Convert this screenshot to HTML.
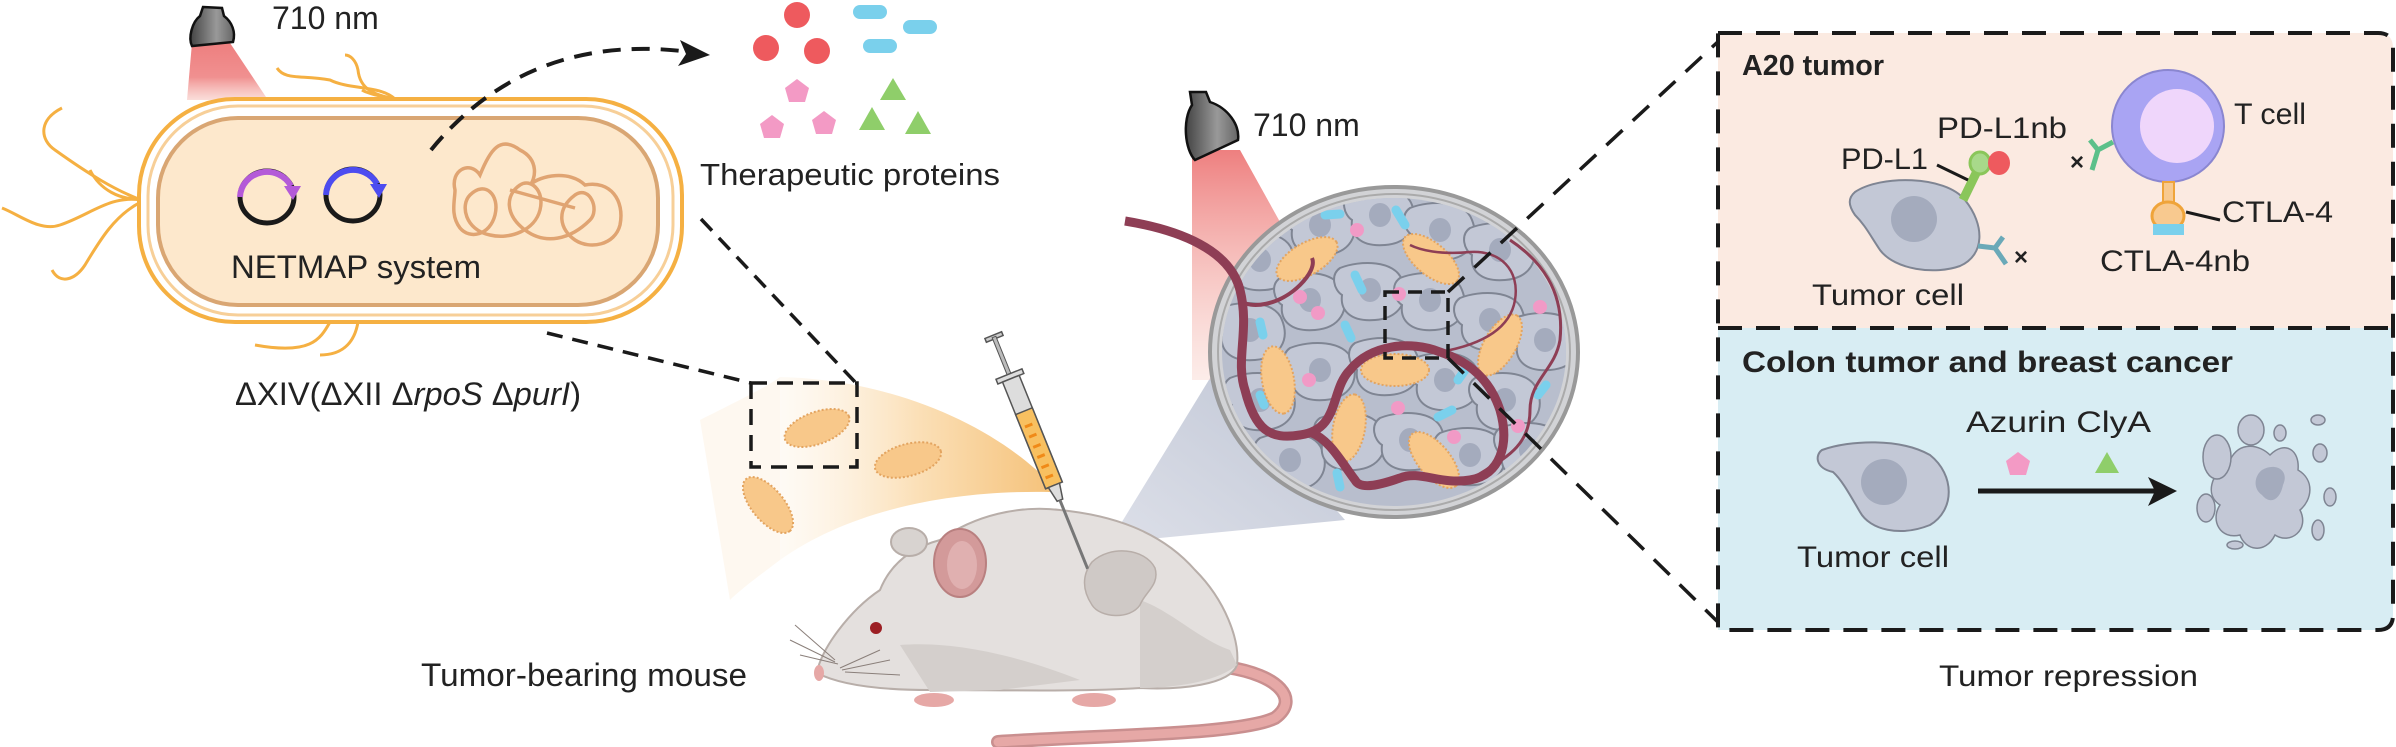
<!DOCTYPE html>
<html><head><meta charset="utf-8"><style>
html,body{margin:0;padding:0;background:#fff;}
svg{display:block;}
text{font-family:"Liberation Sans",Arial,sans-serif;fill:#222;}
</style></head><body>
<svg width="2396" height="747" viewBox="0 0 2396 747" xmlns="http://www.w3.org/2000/svg">
<defs>
<linearGradient id="red1" x1="0" y1="0" x2="0" y2="1"><stop offset="0" stop-color="#ee7f7f"/><stop offset="0.6" stop-color="#f09090"/><stop offset="1" stop-color="#f7c6c0" stop-opacity="0.6"/></linearGradient>
<linearGradient id="red2" x1="0" y1="0" x2="0" y2="1"><stop offset="0" stop-color="#ee7f7f"/><stop offset="1" stop-color="#f8d0c8" stop-opacity="0.4"/></linearGradient>
<linearGradient id="org" x1="0" y1="0" x2="1" y2="0"><stop offset="0" stop-color="#fdf0de" stop-opacity="0.3"/><stop offset="0.5" stop-color="#fbe0b8"/><stop offset="1" stop-color="#f5c27a"/></linearGradient>
<linearGradient id="gry" x1="0" y1="1" x2="1" y2="0"><stop offset="0" stop-color="#d9dce6"/><stop offset="1" stop-color="#b8bfd0"/></linearGradient>
<linearGradient id="lamp" x1="0" y1="0" x2="1" y2="0"><stop offset="0" stop-color="#444"/><stop offset="0.6" stop-color="#999"/><stop offset="1" stop-color="#666"/></linearGradient>
<g id="cell"><path d="M-30,-22 C-10,-30 25,-30 32,-10 C40,10 30,28 5,30 C-20,32 -30,20 -28,5 C-36,0 -40,-15 -30,-22Z" fill="#c3c8d6" stroke="#7f8593" stroke-width="2"/><ellipse cx="0" cy="0" rx="11" ry="12" fill="#a4abbd"/></g>
<g id="bac"><ellipse cx="0" cy="0" rx="34" ry="16" fill="#f8c88a" stroke="#e3a460" stroke-width="2" stroke-dasharray="2 2"/></g>
</defs>

<polygon points="192,43 230,43 268,100 187,100" fill="url(#red1)"/>
<path d="M203,7 L222,8 L224,16 C232,22 236,32 233,42 L192,46 C188,38 192,22 200,16 Z" fill="url(#lamp)" stroke="#111" stroke-width="2.5"/>
<text x="272" y="29" font-size="32">710 nm</text>

<g fill="none" stroke="#f5b042" stroke-width="3">
<path d="M141,200 C110,195 90,215 60,225 C40,232 20,215 2,208"/>
<path d="M141,200 C115,190 90,175 55,150 C40,140 38,120 62,108"/>
<path d="M141,202 C115,215 100,240 85,265 C75,280 60,285 52,270"/>
<path d="M141,199 C120,200 100,190 90,170"/>
<path d="M395,99 C380,85 350,90 330,80 C300,75 285,80 277,68"/>
<path d="M395,99 C375,95 360,90 358,70 C356,60 350,55 345,55"/>
<path d="M395,99 C390,98 370,95 362,90"/>
<path d="M330,322 C320,340 310,355 255,345"/>
<path d="M358,322 C355,340 345,355 320,355"/>
</g>

<rect x="139" y="99" width="543" height="223" rx="96" fill="#fff" stroke="#f5b042" stroke-width="4"/>
<rect x="148" y="106" width="525" height="209" rx="90" fill="none" stroke="#f7cf98" stroke-width="3"/>
<rect x="158" y="118" width="500" height="187" rx="80" fill="#fde8cc" stroke="#d9a673" stroke-width="4"/>
<ellipse cx="267" cy="197" rx="27" ry="26" fill="none" stroke="#1a1a1a" stroke-width="5"/>
<path d="M240,197 A27,26 0 0 1 291,186" fill="none" stroke="#b45ad8" stroke-width="6"/>
<polygon points="284,186 301,186 293,200" fill="#b45ad8"/>
<ellipse cx="353" cy="195" rx="27" ry="26" fill="none" stroke="#1a1a1a" stroke-width="5"/>
<path d="M326,195 A27,26 0 0 1 377,184" fill="none" stroke="#4d4cf0" stroke-width="6"/>
<polygon points="370,184 387,184 379,198" fill="#4d4cf0"/>
<g fill="none" stroke="#e0a472" stroke-width="3.5">
<path d="M455,190 C450,170 470,160 480,175 C490,150 500,135 520,150 C540,160 535,180 530,185 C540,175 570,170 585,185 C610,180 625,200 620,225 C615,245 590,250 575,240 C560,230 555,210 575,195 C590,185 600,210 590,220 C570,240 545,245 525,230 C505,215 505,195 520,185 C530,178 545,190 540,210 C535,230 510,240 490,235 C465,230 460,205 470,195 C485,180 500,195 495,215 C490,235 470,240 460,228 C450,215 455,200 455,190Z"/>
<path d="M510,190 L575,208"/>
</g>
<text x="231" y="278" font-size="32" textLength="250" lengthAdjust="spacingAndGlyphs">NETMAP system</text>
<text x="235" y="405" font-size="32" textLength="346" lengthAdjust="spacingAndGlyphs">ΔXIV(ΔXII Δ<tspan font-style="italic">rpoS</tspan> Δ<tspan font-style="italic">purI</tspan>)</text>

<path d="M431,150 C480,90 560,35 690,52" fill="none" stroke="#1a1a1a" stroke-width="4" stroke-dasharray="18 11"/>
<polygon points="710,55 680,40 686,54 678,66" fill="#1a1a1a"/>

<g fill="#ee5a5e"><circle cx="797" cy="15" r="13"/><circle cx="766" cy="48" r="13"/><circle cx="817" cy="51" r="13"/></g>
<g fill="#7ad0ec"><rect x="853" y="5" width="34" height="14" rx="7"/><rect x="903" y="20" width="34" height="14" rx="7"/><rect x="863" y="39" width="34" height="14" rx="7"/></g>
<g fill="#f39ac5">
<polygon points="797,79 809,88 805,102 789,102 785,88"/>
<polygon points="772,115 784,124 780,138 764,138 760,124"/>
<polygon points="824,111 836,120 832,134 816,134 812,120"/>
</g>
<g fill="#8fce6a">
<polygon points="893,78 906,100 880,100"/>
<polygon points="872,107 885,130 859,130"/>
<polygon points="918,111 931,134 905,134"/>
</g>
<text x="700" y="185" font-size="31" textLength="300" lengthAdjust="spacingAndGlyphs">Therapeutic proteins</text>

<g stroke="#1a1a1a" stroke-width="3.5" stroke-dasharray="16 10" fill="none">
<line x1="701" y1="219" x2="856" y2="383"/>
<line x1="547" y1="333" x2="751" y2="383"/>
</g>
<path d="M780,377 C900,380 1000,430 1052,485 L1050,492 C950,490 850,510 780,560 Z" fill="url(#org)"/>
<path d="M700,420 C740,400 770,385 780,377 L780,560 C760,575 740,590 730,600 Z" fill="#fdf3e6" opacity="0.6"/>
<rect x="751" y="383" width="106" height="84" fill="none" stroke="#1a1a1a" stroke-width="3.5" stroke-dasharray="16 10"/>
<g transform="translate(817,428) rotate(-20)"><use href="#bac"/></g>
<g transform="translate(908,460) rotate(-15)"><use href="#bac"/></g>
<g transform="translate(768,505) rotate(50)"><use href="#bac"/></g>

<polygon points="1109,543 1215,370 1345,520" fill="url(#gry)" opacity="0.9"/>

<path d="M1226,667 C1280,675 1300,700 1275,718 C1240,735 1100,735 998,742" fill="none" stroke="#c98f8f" stroke-width="14" stroke-linecap="round"/>
<path d="M1226,667 C1280,675 1300,700 1275,718 C1240,735 1100,735 998,742" fill="none" stroke="#e6a8a6" stroke-width="9" stroke-linecap="round"/>
<path d="M817,673 C820,650 850,610 880,590 C890,565 910,548 940,540 C975,515 1020,505 1060,510 C1110,515 1160,530 1195,570 C1225,600 1240,640 1237,665 C1230,685 1180,690 1140,688 C1080,692 1000,690 930,690 C880,690 840,685 817,673Z" fill="#e4e0de" stroke="#b8aea9" stroke-width="2"/>
<path d="M900,645 C960,640 1030,660 1080,680 L1000,690 L930,692 Z" fill="#d4cfcc"/>
<path d="M1140,600 C1170,610 1200,640 1230,650 L1237,665 C1220,680 1180,688 1140,688 Z" fill="#d4cfcc"/>
<ellipse cx="909" cy="542" rx="18" ry="14" fill="#d8d3d0" stroke="#b8aea9" stroke-width="2"/>
<ellipse cx="960" cy="563" rx="26" ry="34" fill="#d39a9a" stroke="#b98080" stroke-width="2"/>
<ellipse cx="962" cy="565" rx="15" ry="24" fill="#e0b0b0"/>
<path d="M1092,562 C1110,545 1145,548 1155,568 C1160,585 1145,592 1140,605 C1130,620 1100,618 1092,605 C1082,590 1082,575 1092,562Z" fill="#cfc9c6" stroke="#b8aea9" stroke-width="1.5"/>
<circle cx="876" cy="628" r="6" fill="#9c1f24"/>
<ellipse cx="819" cy="673" rx="5" ry="8" fill="#e6a8a6"/>
<g stroke="#8a7f7a" stroke-width="1" fill="none">
<path d="M835,660 L795,625"/><path d="M835,662 L790,640"/><path d="M838,664 L800,655"/>
<path d="M840,668 L880,650"/><path d="M842,670 L890,660"/><path d="M845,672 L900,675"/>
</g>
<ellipse cx="934" cy="700" rx="20" ry="7" fill="#e6a8a6"/>
<ellipse cx="1094" cy="700" rx="22" ry="7" fill="#e6a8a6"/>

<g transform="translate(994,337) rotate(-22)">
<rect x="-9" y="-2" width="18" height="4" fill="#ccc" stroke="#555" stroke-width="1.5"/>
<rect x="-2" y="0" width="4" height="40" fill="#bbb" stroke="#555" stroke-width="1"/>
<rect x="-14" y="40" width="28" height="5" fill="#ddd" stroke="#555" stroke-width="1.5"/>
<rect x="-9" y="45" width="18" height="115" fill="#ddd" stroke="#555" stroke-width="1.5"/>
<rect x="-9" y="80" width="18" height="80" fill="#f8c060" stroke="#555" stroke-width="1.5"/>
<g stroke="#f08a18" stroke-width="3"><line x1="-5" y1="95" x2="3" y2="95"/><line x1="-5" y1="106" x2="3" y2="106"/><line x1="-5" y1="117" x2="3" y2="117"/><line x1="-5" y1="128" x2="3" y2="128"/><line x1="-5" y1="139" x2="3" y2="139"/><line x1="-5" y1="150" x2="3" y2="150"/></g>
<polygon points="-6,160 6,160 3,176 -3,176" fill="#ddd" stroke="#555" stroke-width="1.5"/>
<line x1="0" y1="176" x2="0" y2="250" stroke="#777" stroke-width="3"/>
</g>
<text x="421" y="686" font-size="32" textLength="326" lengthAdjust="spacingAndGlyphs">Tumor-bearing mouse</text>

<polygon points="1192,150 1240,150 1300,258 1210,380 1192,380" fill="url(#red2)"/>
<path d="M1190,92 L1206,92 L1210,102 C1228,108 1240,125 1238,140 L1195,160 C1185,150 1182,120 1192,105 Z" fill="url(#lamp)" stroke="#111" stroke-width="2.5"/>
<text x="1253" y="136" font-size="32">710 nm</text>

<ellipse cx="1394" cy="352" rx="184" ry="165" fill="#d2d3d6" stroke="#999" stroke-width="4"/>
<ellipse cx="1394" cy="352" rx="176" ry="158" fill="none" stroke="#aaa" stroke-width="2"/>
<clipPath id="cc"><ellipse cx="1394" cy="352" rx="172" ry="154"/></clipPath>
<g clip-path="url(#cc)">
<rect x="1220" y="195" width="350" height="320" fill="#b8becd"/>
<use href="#cell" x="1260" y="260"/><use href="#cell" x="1320" y="225"/><use href="#cell" x="1380" y="215"/><use href="#cell" x="1440" y="230"/><use href="#cell" x="1500" y="250"/>
<use href="#cell" x="1250" y="330"/><use href="#cell" x="1310" y="300"/><use href="#cell" x="1370" y="290"/><use href="#cell" x="1430" y="300"/><use href="#cell" x="1490" y="320"/><use href="#cell" x="1545" y="340"/>
<use href="#cell" x="1260" y="400"/><use href="#cell" x="1320" y="370"/><use href="#cell" x="1385" y="365"/><use href="#cell" x="1445" y="380"/><use href="#cell" x="1505" y="400"/>
<use href="#cell" x="1290" y="460"/><use href="#cell" x="1350" y="440"/><use href="#cell" x="1410" y="440"/><use href="#cell" x="1470" y="455"/><use href="#cell" x="1530" y="450"/>
<g fill="#f19ac6"><circle cx="1357" cy="230" r="7"/><circle cx="1318" cy="313" r="7"/><circle cx="1300" cy="297" r="7"/><circle cx="1399" cy="294" r="7"/><circle cx="1540" cy="307" r="7"/><circle cx="1309" cy="380" r="7"/><circle cx="1398" cy="408" r="7"/><circle cx="1454" cy="437" r="7"/><circle cx="1518" cy="426" r="7"/></g>
<g stroke="#7ad0ec" stroke-width="9" stroke-linecap="round"><line x1="1325" y1="215" x2="1340" y2="214"/><line x1="1396" y1="210" x2="1405" y2="225"/><line x1="1355" y1="275" x2="1362" y2="290"/><line x1="1260" y1="322" x2="1263" y2="335"/><line x1="1345" y1="325" x2="1351" y2="338"/><line x1="1500" y1="330" x2="1509" y2="340"/><line x1="1538" y1="395" x2="1546" y2="385"/><line x1="1260" y1="395" x2="1264" y2="405"/><line x1="1438" y1="417" x2="1452" y2="410"/><line x1="1337" y1="473" x2="1340" y2="487"/><line x1="1458" y1="380" x2="1465" y2="370"/></g>
<g transform="translate(1307,259) rotate(-30)"><use href="#bac"/></g>
<g transform="translate(1431,259) rotate(40)"><use href="#bac"/></g>
<g transform="translate(1278,380) rotate(80)"><use href="#bac"/></g>
<g transform="translate(1395,370) rotate(0)"><use href="#bac"/></g>
<g transform="translate(1500,345) rotate(-60)"><use href="#bac"/></g>
<g transform="translate(1349,428) rotate(-80)"><use href="#bac"/></g>
<g transform="translate(1434,460) rotate(50)"><use href="#bac"/></g>
</g>
<path d="M1125,221 C1180,230 1230,250 1240,290 C1250,330 1235,360 1245,390 C1255,430 1270,440 1300,435 C1340,430 1330,390 1350,370 C1370,345 1410,340 1440,352 C1470,362 1490,380 1500,410 C1510,445 1500,475 1470,480 C1440,485 1420,470 1400,478 C1380,485 1360,490 1355,480 C1340,460 1330,440 1310,432" fill="none" stroke="#8e3e55" stroke-width="9"/>
<path d="M1240,300 C1250,310 1280,305 1300,285 C1310,275 1315,265 1312,258" fill="none" stroke="#8e3e55" stroke-width="4"/>
<path d="M1440,352 C1480,345 1510,330 1515,300 C1520,270 1500,250 1470,252 C1440,255 1420,250 1410,245" fill="none" stroke="#8e3e55" stroke-width="2.5"/>
<path d="M1470,480 C1500,460 1530,450 1530,410 C1530,380 1555,370 1560,340 C1565,290 1540,260 1510,240" fill="none" stroke="#8e3e55" stroke-width="3"/>
<rect x="1385" y="292" width="63" height="66" fill="none" stroke="#1a1a1a" stroke-width="3.5" stroke-dasharray="14 9"/>

<g stroke="#1a1a1a" stroke-width="3.5" stroke-dasharray="22 14" fill="none">
<line x1="1448" y1="292" x2="1722" y2="38"/>
<line x1="1448" y1="358" x2="1722" y2="626"/>
</g>

<path d="M1718,33 L2378,33 Q2393,33 2393,48 L2393,328 L1718,328 Z" fill="#fbeae1"/>
<path d="M1718,328 L2393,328 L2393,615 Q2393,630 2378,630 L1718,630 Z" fill="#d8edf3"/>
<g fill="none" stroke="#1a1a1a" stroke-width="4" stroke-dasharray="24 14">
<path d="M1718,33 L2378,33 Q2393,33 2393,48 L2393,615 Q2393,630 2378,630 L1718,630 Z"/>
<line x1="1718" y1="328" x2="2393" y2="328"/>
</g>
<text x="1742" y="75" font-size="29" font-weight="bold" textLength="142" lengthAdjust="spacingAndGlyphs">A20 tumor</text>
<path d="M1855,192 C1880,175 1945,175 1965,200 C1985,225 1985,255 1960,266 C1935,275 1895,270 1880,250 C1870,235 1865,225 1855,215 C1848,205 1848,198 1855,192Z" fill="#c3c8d6" stroke="#7f8593" stroke-width="2"/>
<ellipse cx="1914" cy="219" rx="23" ry="23" fill="#a4abbd"/>
<path d="M1963,200 L1980,165" stroke="#8ac65a" stroke-width="9" fill="none"/>
<ellipse cx="1980" cy="163" rx="10" ry="11" fill="#a8d98a" stroke="#8ac65a" stroke-width="3"/>
<ellipse cx="1999" cy="163" rx="11" ry="12" fill="#ee5a5e"/>
<line x1="1937" y1="165" x2="1968" y2="180" stroke="#1a1a1a" stroke-width="3"/>
<text x="1937" y="138" font-size="30" textLength="130" lengthAdjust="spacingAndGlyphs">PD-L1nb</text>
<text x="1841" y="169" font-size="30" textLength="87" lengthAdjust="spacingAndGlyphs">PD-L1</text>
<path d="M1978,246 L1995,248 L2003,237 M1995,248 L2006,264" fill="none" stroke="#6aa9b8" stroke-width="5"/>
<text x="2014" y="265" font-size="24" font-weight="bold">×</text>
<ellipse cx="2168" cy="126" rx="56" ry="56" fill="#a9a4f3" stroke="#8a86d0" stroke-width="2"/>
<ellipse cx="2177" cy="126" rx="37" ry="37" fill="#efd6fb"/>
<path d="M2113,142 L2098,150 L2090,140 M2098,150 L2092,170" fill="none" stroke="#5cc08a" stroke-width="5"/>
<text x="2070" y="170" font-size="24" font-weight="bold">×</text>
<text x="2234" y="124" font-size="30" textLength="72" lengthAdjust="spacingAndGlyphs">T cell</text>
<rect x="2163" y="182" width="11" height="25" fill="#f8c98f" stroke="#efa43a" stroke-width="2"/>
<ellipse cx="2168" cy="216" rx="16" ry="14" fill="#f8c98f" stroke="#efa43a" stroke-width="3"/>
<rect x="2153" y="224" width="31" height="11" fill="#7ad0ec"/>
<line x1="2186" y1="212" x2="2220" y2="220" stroke="#1a1a1a" stroke-width="3"/>
<text x="2222" y="222" font-size="30" textLength="111" lengthAdjust="spacingAndGlyphs">CTLA-4</text>
<text x="2100" y="271" font-size="30" textLength="150" lengthAdjust="spacingAndGlyphs">CTLA-4nb</text>
<text x="1812" y="305" font-size="30" textLength="152" lengthAdjust="spacingAndGlyphs">Tumor cell</text>

<text x="1742" y="372" font-size="30" font-weight="bold" textLength="491" lengthAdjust="spacingAndGlyphs">Colon tumor and breast cancer</text>
<path d="M1822,450 C1850,440 1900,438 1930,455 C1955,475 1955,510 1930,525 C1900,537 1870,530 1860,512 C1850,495 1842,480 1833,472 C1815,468 1815,455 1822,450Z" fill="#c3c8d6" stroke="#7f8593" stroke-width="2"/>
<ellipse cx="1884" cy="482" rx="23" ry="23" fill="#a4abbd"/>
<text x="1797" y="567" font-size="30" textLength="152" lengthAdjust="spacingAndGlyphs">Tumor cell</text>
<text x="1966" y="432" font-size="30" textLength="185" lengthAdjust="spacingAndGlyphs">Azurin  ClyA</text>
<polygon points="2018,452 2030,461 2026,475 2010,475 2006,461" fill="#f39ac5"/>
<polygon points="2107,452 2119,473 2095,473" fill="#8fce6a"/>
<line x1="1978" y1="491" x2="2160" y2="491" stroke="#1a1a1a" stroke-width="5"/>
<polygon points="2177,491 2148,477 2155,491 2148,506" fill="#1a1a1a"/>
<g fill="#c3c8d6" stroke="#7f8593" stroke-width="1.5">
<path d="M2230,460 C2240,440 2260,445 2270,455 C2285,440 2300,450 2298,470 C2315,480 2312,500 2300,510 C2310,530 2290,545 2275,535 C2265,555 2245,550 2240,535 C2220,540 2210,520 2220,505 C2205,495 2210,475 2230,460Z"/>
<ellipse cx="2217" cy="457" rx="14" ry="22"/><ellipse cx="2251" cy="430" rx="13" ry="15"/><ellipse cx="2280" cy="433" rx="6" ry="8"/>
<ellipse cx="2320" cy="453" rx="7" ry="9"/><ellipse cx="2330" cy="497" rx="6" ry="9"/><ellipse cx="2206" cy="508" rx="9" ry="14"/>
<ellipse cx="2318" cy="530" rx="6" ry="10"/><ellipse cx="2235" cy="545" rx="8" ry="4"/><ellipse cx="2318" cy="420" rx="7" ry="5"/>
</g>
<path d="M2262,470 C2275,462 2290,470 2283,485 C2280,500 2270,505 2262,495 C2252,488 2255,475 2262,470Z" fill="#a4abbd"/>
<text x="1939" y="686" font-size="30" textLength="259" lengthAdjust="spacingAndGlyphs">Tumor repression</text>
</svg>
</body></html>
